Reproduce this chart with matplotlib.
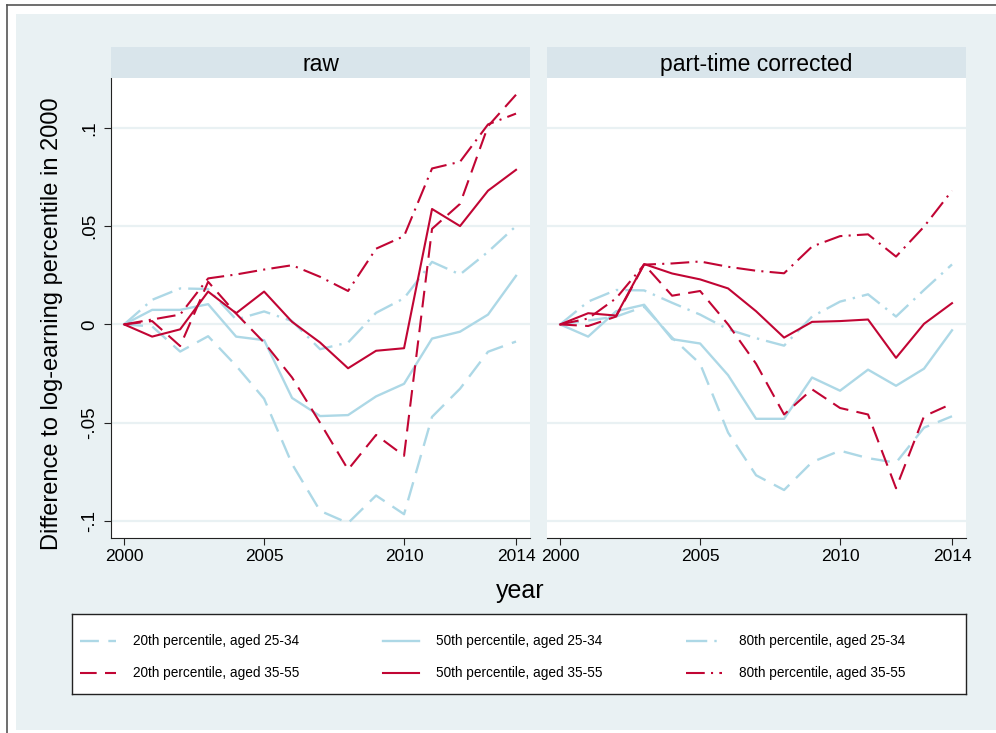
import matplotlib.pyplot as plt
from matplotlib.patches import Rectangle
from matplotlib.lines import Line2D

# ============================================================
# DATA
# ============================================================

years = list(range(2000, 2015))

# raw panel
raw_p20_young = [0, -0.001, -0.0138, -0.006, -0.021, -0.0378, -0.071, -0.0948, -0.101, -0.087, -0.0965, -0.047, -0.0327, -0.0139, -0.0087]
raw_p50_young = [0, 0.0074, 0.0074, 0.0103, -0.0062, -0.008, -0.0374, -0.0466, -0.0461, -0.0366, -0.0302, -0.0072, -0.0037, 0.005, 0.0247]
raw_p80_young = [0, 0.0125, 0.0183, 0.018, 0.0025, 0.0066, 0.0017, -0.0126, -0.0092, 0.0059, 0.0133, 0.0318, 0.0254, 0.0369, 0.050]
raw_p20_old = [0, 0.0017, -0.011, 0.0217, 0.0055, -0.0092, -0.027, -0.050, -0.0738, -0.0562, -0.0668, 0.0486, 0.0613, 0.1008, 0.1168]
raw_p50_old = [0, -0.0062, -0.0025, 0.0167, 0.0057, 0.0167, 0.0013, -0.0092, -0.0223, -0.0134, -0.0121, 0.0587, 0.050, 0.068, 0.0786]
raw_p80_old = [0, 0.0025, 0.005, 0.0234, 0.0254, 0.0279, 0.0301, 0.0242, 0.017, 0.0385, 0.0449, 0.0793, 0.0827, 0.1017, 0.1072]

# part-time corrected panel
ptc_p20_young = [0, 0.002, 0.004, 0.009, -0.0067, -0.020, -0.055, -0.0767, -0.0842, -0.070, -0.0642, -0.068, -0.0703, -0.0525, -0.0467]
ptc_p50_young = [0, -0.0062, 0.0067, 0.010, -0.0075, -0.0097, -0.0258, -0.048, -0.048, -0.027, -0.0337, -0.023, -0.0312, -0.0225, -0.003]
ptc_p80_young = [0, 0.0116, 0.0175, 0.0173, 0.011, 0.005, -0.0025, -0.007, -0.0108, 0.004, 0.0116, 0.0153, 0.004, 0.0175, 0.0305]
ptc_p20_old = [0, -0.0008, 0.004, 0.0305, 0.0146, 0.017, 0.0, -0.020, -0.0458, -0.033, -0.0425, -0.0458, -0.0833, -0.0467, -0.0403]
ptc_p50_old = [0, 0.0057, 0.0045, 0.0307, 0.0259, 0.0229, 0.0183, 0.0067, -0.0067, 0.0013, 0.0017, 0.0025, -0.017, 0.0003, 0.0108]
ptc_p80_old = [0, 0.003, 0.0133, 0.0304, 0.031, 0.032, 0.0293, 0.0273, 0.026, 0.0396, 0.0449, 0.0458, 0.0345, 0.0497, 0.068]

panel_titles = ["raw", "part-time corrected"]
labels = [
    "20th percentile, aged 25-34", "50th percentile, aged 25-34", "80th percentile, aged 25-34",
    "20th percentile, aged 35-55", "50th percentile, aged 35-55", "80th percentile, aged 35-55",
]
yticks = [-0.1, -0.05, 0, 0.05, 0.1]
yticklabels = ["-.1", "-.05", "0", ".05", ".1"]
xticks = [2000, 2005, 2010, 2014]

# ============================================================
# STYLE
# ============================================================

plt.rcParams["font.family"] = ["Liberation Sans", "DejaVu Sans"]

LIGHT = "#add8e6"
RED = "#c10534"
BG = "#e9f1f3"
STRIP = "#d9e5eb"
DASH = (0, (8, 4))
DASHDOT = (0, (9, 3, 1, 3))

styles = [
    (LIGHT, DASH, 1.7), (LIGHT, "-", 1.7), (LIGHT, DASHDOT, 1.7),
    (RED, DASH, 1.5), (RED, "-", 1.5), (RED, DASHDOT, 1.5),
]

W, H = 996, 733
fig = plt.figure(figsize=(W / 100, H / 100), dpi=100)


def fx(px):
    return px / W


def fy(py):
    return 1 - py / H


# outer frame + background
fig.patches.append(Rectangle((fx(16), fy(730)), fx(996 - 16), (730 - 14) / H,
                             transform=fig.transFigure, facecolor=BG, edgecolor="none", zorder=-10))
fig.lines.append(Line2D([fx(7), fx(7)], [fy(733), fy(5)], transform=fig.transFigure, color="#555555", lw=1.2))
fig.lines.append(Line2D([fx(7), fx(996)], [fy(5), fy(5)], transform=fig.transFigure, color="#555555", lw=1.2))

panels = [
    (111, 530, [raw_p20_young, raw_p50_young, raw_p80_young, raw_p20_old, raw_p50_old, raw_p80_old]),
    (547, 966, [ptc_p20_young, ptc_p50_young, ptc_p80_young, ptc_p20_old, ptc_p50_old, ptc_p80_old]),
]

top, bottom = 78, 538
for i, (x0, x1, series) in enumerate(panels):
    ax = fig.add_axes([fx(x0), fy(bottom), (x1 - x0) / W, (bottom - top) / H])
    ax.set_facecolor("white")
    for vals, (c, ls, lw) in zip(series, styles):
        ax.plot(years, vals, color=c, linestyle=ls, linewidth=lw)
    ax.set_xlim(1999.53, 2014.5)
    ax.set_ylim(-0.1086, 0.1253)
    for yv in yticks:
        ax.axhline(yv, color=BG, lw=1.6, zorder=0)
    ax.set_xticks(xticks)
    ax.set_xticklabels([str(x) for x in xticks], fontsize=12.5)
    ax.set_yticks(yticks)
    for s in ["top", "right"]:
        ax.spines[s].set_visible(False)
    ax.spines["bottom"].set_color("#222222")
    ax.tick_params(axis="x", length=5, color="#222222", pad=3)
    if i == 0:
        ax.set_yticklabels(yticklabels, fontsize=13.5, rotation=90, va="center")
        ax.tick_params(axis="y", length=5, color="#222222", pad=4)
        ax.spines["left"].set_color("#222222")
        ax.set_ylabel("Difference to log-earning percentile in 2000", fontsize=17)
        ax.yaxis.set_label_coords(-0.115, 0.465)
    else:
        ax.set_yticklabels([])
        ax.tick_params(axis="y", length=0)
        ax.spines["left"].set_visible(False)

    # strip header
    sax = fig.add_axes([fx(x0), fy(top), (x1 - x0) / W, (top - 47) / H])
    sax.set_facecolor(STRIP)
    sax.set_xticks([])
    sax.set_yticks([])
    for s in sax.spines.values():
        s.set_visible(False)
    sax.text(0.5, 0.45, panel_titles[i], ha="center", va="center", fontsize=16.5, transform=sax.transAxes)

fig.text(fx(520), fy(591), "year", ha="center", va="center", fontsize=18)

# ---- legend box, laid out like the Stata one (3 columns x 2 rows) ----
lx0, lx1, ly0, ly1 = 72, 966, 614, 694
lax = fig.add_axes([fx(lx0), fy(ly1), (lx1 - lx0) / W, (ly1 - ly0) / H])
lax.set_xlim(lx0, lx1)
lax.set_ylim(ly1, ly0)
lax.set_facecolor("white")
lax.set_xticks([])
lax.set_yticks([])
for s in lax.spines.values():
    s.set_color("#222222")
    s.set_linewidth(1.0)

col_x = [80, 383, 686]
row_y = [641, 673]
for k, (lab, (c, ls, lw)) in enumerate(zip(labels, styles)):
    cx = col_x[k % 3]
    ry = row_y[k // 3]
    lax.plot([cx, cx + 36], [ry, ry], color=c, linestyle=ls, linewidth=lw)
    lax.text(cx + 53, ry, lab, ha="left", va="center", fontsize=9.8)

fig.savefig("out.png", dpi=100, facecolor="white")
